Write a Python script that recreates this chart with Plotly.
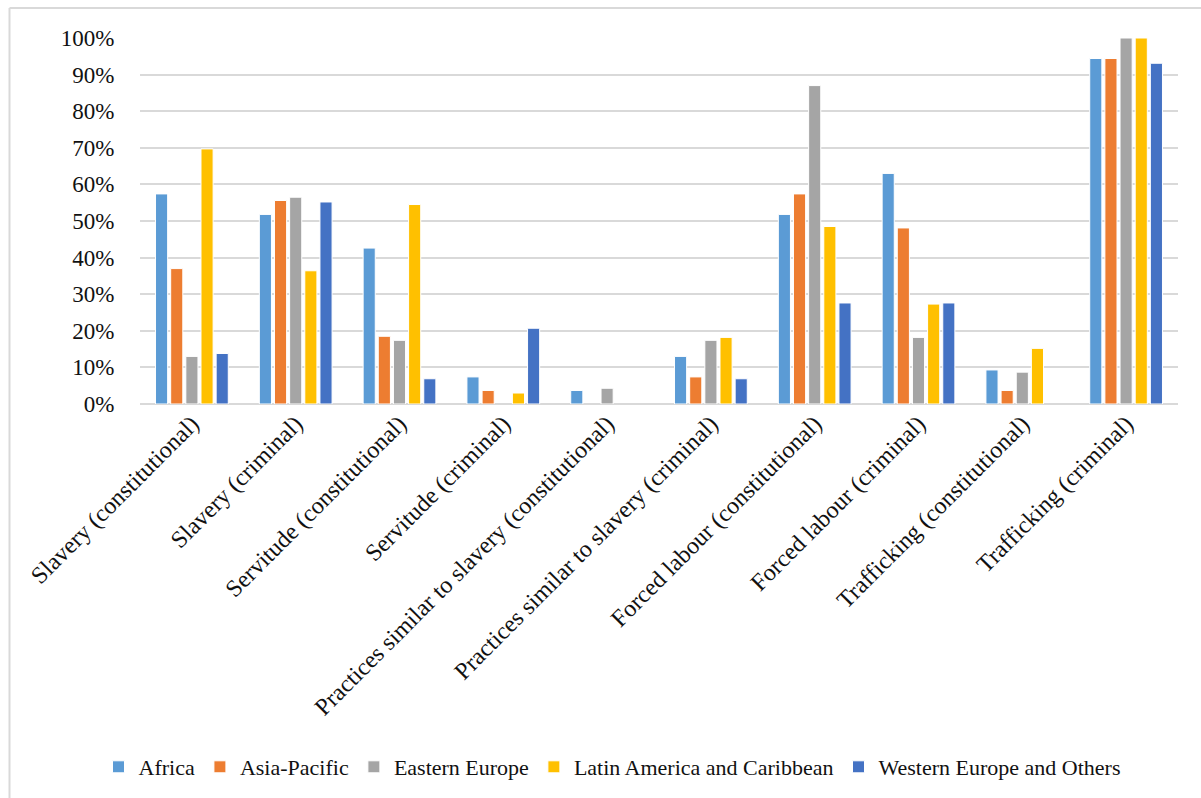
import plotly.graph_objects as go

categories = [
    "Slavery (constitutional)",
    "Slavery (criminal)",
    "Servitude (constitutional)",
    "Servitude (criminal)",
    "Practices similar to slavery (constitutional)",
    "Practices similar to slavery (criminal)",
    "Forced labour (constitutional)",
    "Forced labour (criminal)",
    "Trafficking (constitutional)",
    "Trafficking (criminal)",
]

africa = [0.574, 0.518, 0.426, 0.074, 0.037, 0.130, 0.518, 0.630, 0.093, 0.944]
asia_pacific = [0.370, 0.556, 0.185, 0.037, 0.0, 0.074, 0.574, 0.481, 0.037, 0.944]
eastern_europe = [0.130, 0.565, 0.174, 0.0, 0.043, 0.174, 0.870, 0.182, 0.087, 1.0]
latin_america = [0.697, 0.364, 0.545, 0.030, 0.0, 0.182, 0.485, 0.273, 0.152, 1.0]
western_europe = [0.138, 0.552, 0.069, 0.207, 0.0, 0.069, 0.276, 0.276, 0.0, 0.931]

series_names = ["Africa", "Asia-Pacific", "Eastern Europe",
                "Latin America and Caribbean", "Western Europe and Others"]
series_values = [africa, asia_pacific, eastern_europe, latin_america, western_europe]
colors = ["#5B9BD5", "#ED7D31", "#A5A5A5", "#FFC000", "#4472C4"]

tick_vals = [i / 10 for i in range(11)]
tick_text = [f"{i * 10}%" for i in range(11)]

FONT = "Liberation Serif"

fig = go.Figure()
for name, vals, col in zip(series_names, series_values, colors):
    fig.add_trace(go.Bar(
        name=name, x=categories, y=vals,
        marker=dict(color=col,
                    line=dict(color="white",
                              width=[1 if v > 0 else 0 for v in vals])),
    ))

W, H = 1201, 798
ml, mr, mt, mb = 140, 23, 38, 394
pw, ph = W - ml - mr, H - mt - mb

def px_to_paper_x(px):
    return (px - ml) / pw

def px_to_paper_y(py):
    return (H - mb - py) / ph

fig.update_layout(
    width=W, height=H,
    margin=dict(l=ml, r=mr, t=mt, b=mb, autoexpand=False),
    paper_bgcolor="white", plot_bgcolor="white",
    barmode="group", bargap=0.27, bargroupgap=0.2,
    font=dict(family=FONT, size=22, color="#111111"),
    showlegend=True,
    legend=dict(
        orientation="h", x=px_to_paper_x(612), y=px_to_paper_y(767),
        xanchor="center", yanchor="middle",
        font=dict(family=FONT, size=22, color="#111111"),
        itemwidth=30, traceorder="normal",
    ),
    xaxis=dict(
        tickangle=-45, showgrid=False, showline=False, ticks="",
        tickfont=dict(family=FONT, size=24, color="#111111"),
    ),
    yaxis=dict(
        range=[0, 1.0], tickvals=tick_vals, ticktext=tick_text,
        showgrid=True, gridcolor="#d9d9d9", gridwidth=1.5,
        zeroline=True, zerolinecolor="#d9d9d9", zerolinewidth=1.5,
        showline=False, ticks="outside", ticklen=20, tickcolor="rgba(0,0,0,0)",
        tickfont=dict(family=FONT, size=23, color="#111111"),
    ),
    shapes=[
        dict(type="line", xref="paper", yref="paper",
             x0=px_to_paper_x(9.5), x1=px_to_paper_x(9.5),
             y0=px_to_paper_y(8), y1=px_to_paper_y(800),
             line=dict(color="#d9d9d9", width=2)),
        dict(type="line", xref="paper", yref="paper",
             x0=px_to_paper_x(9.5), x1=px_to_paper_x(1205),
             y0=px_to_paper_y(8), y1=px_to_paper_y(8),
             line=dict(color="#d9d9d9", width=2)),
    ],
)

fig.write_html("out.html")
